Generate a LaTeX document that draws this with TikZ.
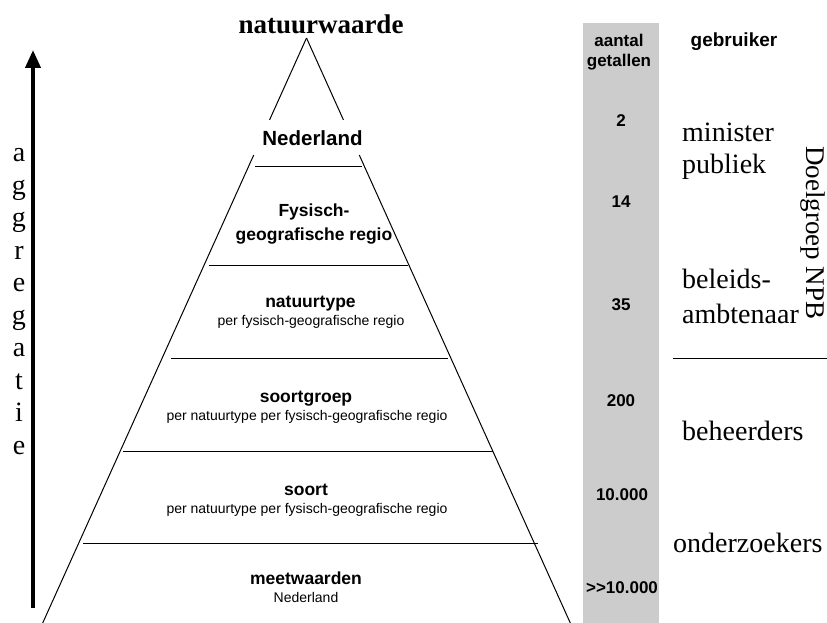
\documentclass[tikz,border=0pt]{standalone}
\usepackage{fontspec}
\setmainfont{Liberation Serif}
\setsansfont{Liberation Sans}
\usetikzlibrary{calc}
\usetikzlibrary{arrows.meta}
\definecolor{colgray}{gray}{0.8}

\begin{document}
\begin{tikzpicture}[x=1pt,y=-1pt,
    every node/.style={inner sep=0pt},
    level/.style={font=\sffamily\bfseries\fontsize{17.5}{20}\selectfont, anchor=base},
    sub/.style={font=\sffamily\fontsize{14}{16}\selectfont, anchor=base},
    count/.style={font=\sffamily\bfseries\fontsize{17}{19}\selectfont, anchor=base},
    user/.style={font=\fontsize{28}{31}\selectfont, anchor=base west},
    pyr/.style={line width=1pt}]
    \useasboundingbox (0,0) rectangle (827,623);
    \fill [colgray] (583,23) rectangle (659,623);

    \coordinate (apex) at (306.5,38);
    \coordinate (botL) at (42.7,623);
    \coordinate (botR) at (570.3,623);
    \draw [pyr] (apex) -- ($(apex)!0.14!(botL)$);
    \draw [pyr] (apex) -- ($(apex)!0.14!(botR)$);
    \draw [pyr] ($(apex)!0.2!(botL)$) -- (botL);
    \draw [pyr] ($(apex)!0.2!(botR)$) -- (botR);
    \draw [pyr] (255,166) -- (362,166);
    \draw [pyr] (209,265) -- (408,265);
    \draw [pyr] (171,358) -- (448,358);
    \draw [pyr] (123,451) -- (493,451);
    \draw [pyr] (83,543) -- (538,543);

    \node [font=\bfseries\fontsize{27}{30}\selectfont, anchor=base] (top) at (321,34) {natuurwaarde};
    \node [level, font=\sffamily\bfseries\fontsize{20.5}{24}\selectfont] (nl) at (312.5,146) {Nederland};
    \node [level] (fgr1) at (314,216) {Fysisch-};
    \node [level] (fgr2) at (314,240) {geografische regio};
    \node [level] (ntype) at (310.5,307) {natuurtype};
    \node [sub] (ntypesub) at (311,325) {per fysisch-geografische regio};
    \node [level] (sgroep) at (306,402) {soortgroep};
    \node [sub] (sgroepsub) at (307,420) {per natuurtype per fysisch-geografische regio};
    \node [level] (soort) at (306,495) {soort};
    \node [sub] (soortsub) at (307,513) {per natuurtype per fysisch-geografische regio};
    \node [level] (meet) at (306,584) {meetwaarden};
    \node [sub] (meetsub) at (306,602) {Nederland};

    \node [count] (aantal) at (619,47) {aantal};
    \node [count] (getallen) at (619,67) {getallen};
    \node [count, font=\sffamily\bfseries\fontsize{19}{22}\selectfont] (gebruiker) at (734,47) {gebruiker};
    \node [count] (n2) at (621,127) {2};
    \node [count] (n14) at (621,207) {14};
    \node [count] (n35) at (621,310) {35};
    \node [count] (n200) at (621,406) {200};
    \node [count] (n10k) at (622,500) {10.000};
    \node [count] (nmore) at (622,593) {>{}>10.000};

    \node [user] (minister) at (682,142) {minister};
    \node [user] (publiek) at (682,173) {publiek};
    \node [user] (beleids) at (682,288) {beleids-};
    \node [user] (ambt) at (682,323) {ambtenaar};
    \coordinate (sepL) at (673,358);
    \coordinate (sepR) at (827,358);
    \draw [pyr] (sepL) -- (sepR);
    \node [user] (beheer) at (682,440) {beheerders};
    \node [user] (onderz) at (673,552) {onderzoekers};
    \node [user, rotate=-90, font=\fontsize{27}{30}\selectfont] (doelgroep) at (806,146) {Doelgroep NPB};

    \coordinate (arrlow) at (33,608);
    \coordinate (arrtop) at (33,50);
    \draw [line width=4pt, -{Triangle[length=18pt,width=15pt]}] (arrlow) -- (arrtop);
    \foreach \c [count=\i] in {a,g,g,r,e,g,a,t,i,e}
        \node [user, anchor=base] (agg\i) at (19,129+32.5*\i) {\c};
\end{tikzpicture}
\end{document}
